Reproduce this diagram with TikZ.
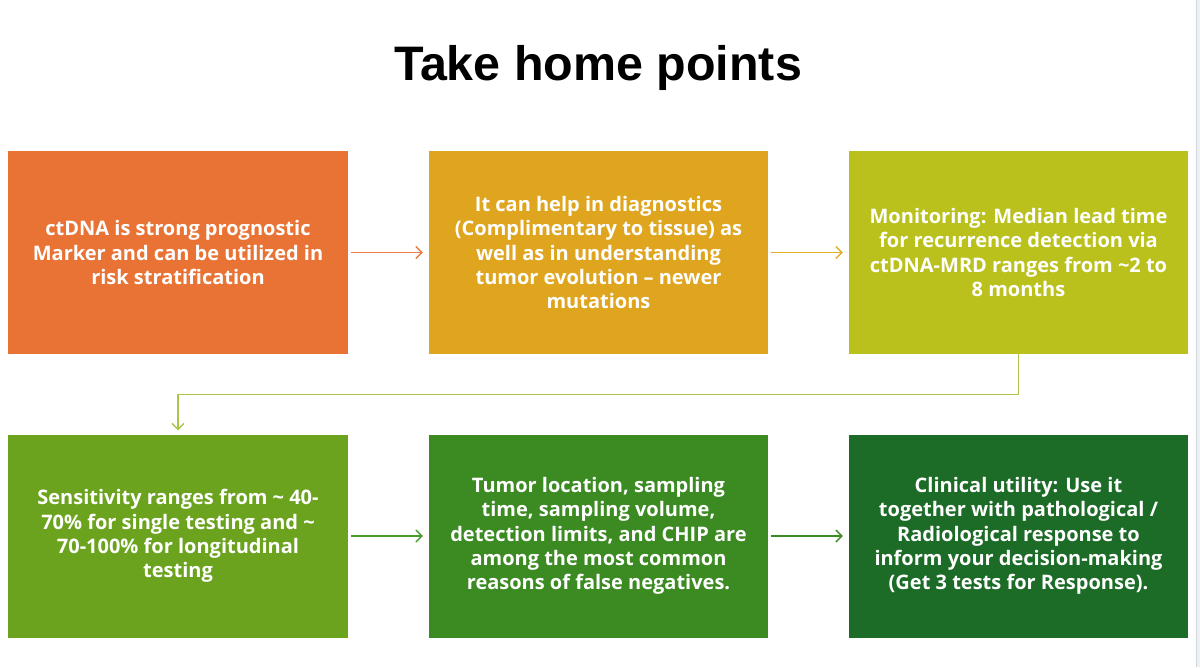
\documentclass[tikz,border=0pt]{standalone}
\usepackage{fontspec}
\setmainfont{Liberation Sans}
\newfontfamily\boxfont{Open Sans}
\usetikzlibrary{arrows.meta}
\definecolor{cA}{HTML}{E97335}
\definecolor{cB}{HTML}{E0A51F}
\definecolor{cC}{HTML}{BAC11D}
\definecolor{cD}{HTML}{6BA31E}
\definecolor{cE}{HTML}{3B8A22}
\definecolor{cF}{HTML}{1C6B27}
\definecolor{arA}{HTML}{EC7C44}
\definecolor{arB}{HTML}{E2AE26}
\definecolor{arC}{HTML}{A9C64A}
\definecolor{arD}{HTML}{4A9A2A}
\definecolor{arE}{HTML}{3B8A22}
\definecolor{stripfill}{HTML}{EEF1F3}
\definecolor{stripline}{HTML}{D3D8DC}
\tikzset{
  card/.style={minimum width=340pt, minimum height=203pt, inner sep=0pt, align=center, text=white, font=\boxfont\bfseries\fontsize{20}{24.3}\selectfont},
  link/.style={line width=1.4pt, -{Straight Barb[length=6pt,width=12pt,line width=1.4pt]}, shorten <=3pt, shorten >=6pt}
}
\begin{document}
\begin{tikzpicture}[x=1pt,y=-1pt]
\useasboundingbox (0,0) rectangle (1200,667);
\fill[white] (0,0) rectangle (1200,667);
\fill[stripfill] (1196,0) rectangle (1200,667);
\draw[stripline, line width=1pt] (1196,0) -- (1196,667);
\node[font=\bfseries\fontsize{48.4}{56}\selectfont] (title) at (598,68) {Take home points};
\node[card, fill=cA] (b1) at (178,252.5) {ctDNA is strong prognostic\\Marker and can be utilized in\\risk stratification};
\node[card, fill=cB, minimum width=339pt] (b2) at (598.5,252.5) {It can help in diagnostics\\(Complimentary to tissue) as\\well as in understanding\\tumor evolution \textendash{} newer\\mutations};
\node[card, fill=cC, minimum width=339pt] (b3) at (1018.5,252.5) {Monitoring: Median lead time\\for recurrence detection via\\ctDNA-MRD ranges from \textasciitilde2 to\\8 months};
\node[card, fill=cD, minimum width=340pt] (b4) at (178,536) {Sensitivity ranges from \textasciitilde{} 40-\\70\% for single testing and \textasciitilde\\70-100\% for longitudinal\\testing};
\node[card, fill=cE, minimum width=339pt] (b5) at (598.5,536) {Tumor location, sampling\\time, sampling volume,\\detection limits, and CHIP are\\among the most common\\reasons of false negatives.};
\node[card, fill=cF, minimum width=339pt] (b6) at (1018.5,536) {Clinical utility: Use it\\together with pathological /\\Radiological response to\\inform your decision-making\\(Get 3 tests for Response).};
\draw[link, arA] (b1.east) -- (b2.west);
\draw[link, arB] (b2.east) -- (b3.west);
\draw[link, arC, shorten <=0pt, shorten >=4pt] (b3.south) -- ++(0,40) -| (b4.north);
\draw[link, arD] (b4.east) -- (b5.west);
\draw[link, arE] (b5.east) -- (b6.west);
\end{tikzpicture}
\end{document}
